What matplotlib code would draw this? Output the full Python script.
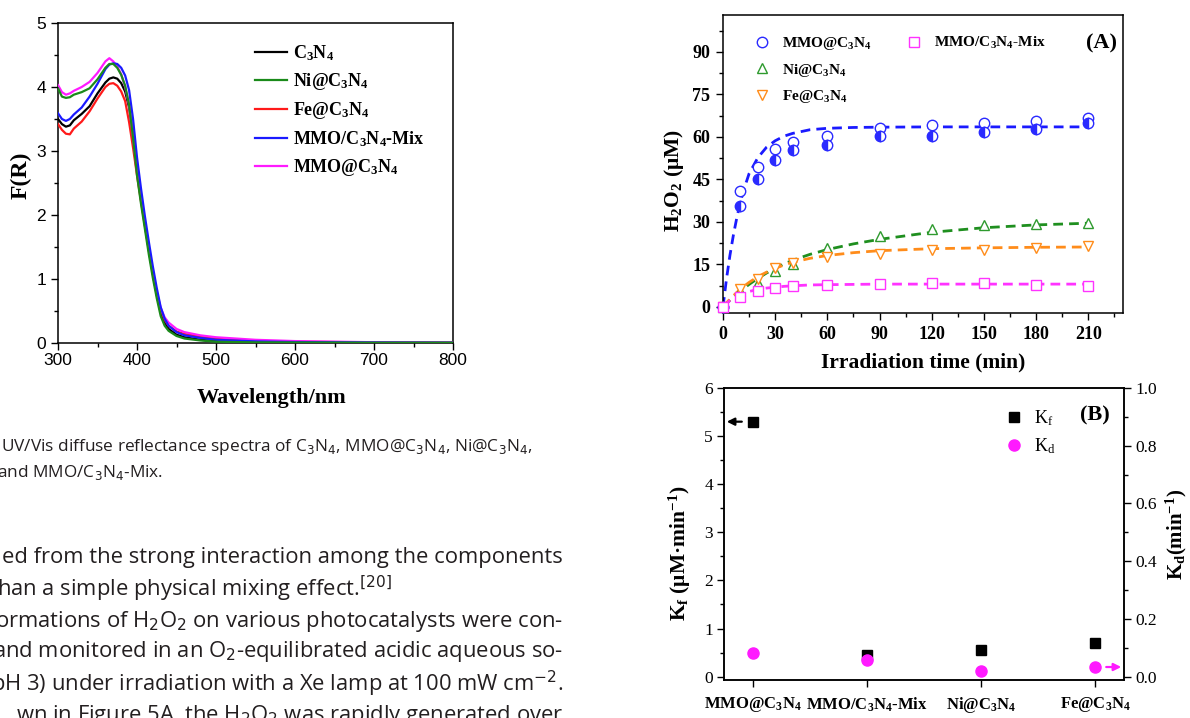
import numpy as np
import matplotlib
matplotlib.use('Agg')
import matplotlib.pyplot as plt
from matplotlib.lines import Line2D
from matplotlib.ticker import MultipleLocator

plt.rcParams['font.family'] = 'Liberation Serif'
plt.rcParams['mathtext.fontset'] = 'custom'
plt.rcParams['mathtext.rm'] = 'Liberation Serif:bold'
plt.rcParams['mathtext.it'] = 'Liberation Serif'
plt.rcParams['mathtext.bf'] = 'Liberation Serif:bold'

W, H = 1190, 718

# ---- UV/Vis DRS data (F(R) vs wavelength)
wl = [300, 305, 310, 315, 320, 330, 340, 350, 360, 365, 370, 375, 380, 385, 390,
      395, 400, 405, 410, 415, 420, 425, 430, 435, 440, 450, 460, 480, 500, 550,
      600, 700, 800]
fr_c3n4 = [3.50, 3.42, 3.38, 3.40, 3.48, 3.58, 3.70, 3.90, 4.07, 4.13, 4.15, 4.13,
           4.06, 3.93, 3.68, 3.25, 2.70, 2.25, 1.85, 1.45, 1.08, 0.75, 0.48, 0.32,
           0.22, 0.13, 0.09, 0.05, 0.03, 0.015, 0.01, 0.005, 0.003]
fr_fe = [3.42, 3.33, 3.27, 3.26, 3.35, 3.46, 3.62, 3.82, 4.00, 4.05, 4.06, 4.02,
         3.93, 3.78, 3.45, 3.05, 2.62, 2.22, 1.83, 1.45, 1.10, 0.78, 0.52, 0.36,
         0.27, 0.18, 0.14, 0.10, 0.07, 0.035, 0.02, 0.01, 0.005]
fr_ni = [3.98, 3.85, 3.83, 3.84, 3.88, 3.92, 3.98, 4.12, 4.30, 4.36, 4.36, 4.30,
         4.19, 4.02, 3.72, 3.20, 2.62, 2.18, 1.78, 1.38, 1.02, 0.70, 0.42, 0.27,
         0.19, 0.11, 0.07, 0.04, 0.02, 0.01, 0.008, 0.005, 0.005]
fr_mix = [3.59, 3.50, 3.47, 3.50, 3.57, 3.68, 3.85, 4.05, 4.28, 4.35, 4.37, 4.36,
          4.30, 4.18, 3.95, 3.50, 2.90, 2.42, 1.98, 1.58, 1.20, 0.86, 0.56, 0.38,
          0.27, 0.17, 0.12, 0.08, 0.05, 0.025, 0.015, 0.008, 0.005]
fr_mmo = [4.03, 3.92, 3.88, 3.90, 3.94, 4.00, 4.08, 4.22, 4.40, 4.45, 4.40, 4.32,
          4.20, 4.00, 3.72, 3.22, 2.68, 2.25, 1.86, 1.48, 1.12, 0.80, 0.55, 0.40,
          0.32, 0.22, 0.17, 0.12, 0.09, 0.05, 0.03, 0.012, 0.006]

# ---- H2O2 production (A)
t_pts = [0, 10, 20, 30, 40, 60, 90, 120, 150, 180, 210]
mmo_run1 = [0, 40.7, 49.2, 55.8, 58.0, 60.4, 63.2, 64.2, 64.9, 65.6, 66.8]
mmo_run2 = [0, 35.4, 45.2, 51.9, 55.2, 57.1, 60.2, 60.2, 61.8, 62.8, 64.9]
ni_pts = [0, 5.7, 8.5, 12.7, 15.0, 20.6, 25.0, 27.4, 28.8, 29.1, 29.5]
fe_pts = [0, 6.1, 9.7, 13.6, 15.3, 17.7, 18.6, 20.1, 20.1, 20.9, 21.6]
mix_pts = [0, 3.3, 5.5, 6.5, 7.3, 7.7, 8.1, 8.3, 8.5, 7.8, 7.4]

t_fit = [0, 2, 4, 6, 8, 10, 12, 15, 20, 25, 30, 35, 40, 50, 60, 75, 90, 120, 150, 180, 210]
mmo_fit = [0, 9.8, 18.2, 25.4, 31.6, 36.9, 41.4, 47.0, 52.6, 56.3, 58.6, 60.2, 61.2,
           62.5, 63.0, 63.3, 63.4, 63.5, 63.5, 63.5, 63.5]
ni_fit = [0, 1.2, 2.3, 3.4, 4.5, 5.5, 6.5, 7.9, 10.0, 11.9, 13.6, 15.1, 16.4, 18.5,
          20.2, 22.2, 23.8, 26.3, 27.9, 28.9, 29.5]
fe_fit = [0, 1.4, 2.7, 3.9, 5.1, 6.2, 7.2, 8.6, 10.6, 12.2, 13.6, 14.7, 15.7, 17.1,
          18.1, 19.1, 19.8, 20.5, 20.8, 21.0, 21.1]
mix_fit = [0, 1.2, 2.2, 3.0, 3.7, 4.3, 4.8, 5.4, 6.1, 6.6, 6.9, 7.2, 7.4, 7.7, 7.8,
           7.9, 8.0, 8.0, 8.0, 8.0, 8.0]

# ---- rate constants (B)
catalysts = ['MMO@C$_3$N$_4$', 'MMO/C$_3$N$_4$-Mix', 'Ni@C$_3$N$_4$', 'Fe@C$_3$N$_4$']
kf = [5.30, 0.46, 0.55, 0.70]
kd = [0.083, 0.056, 0.020, 0.033]

blue = '#2a2aff'
green = '#2e9a2e'
orange = '#ff8c1a'
pink = '#ff33ff'


def rect(x0, y0, x1, y1):
    return [x0 / W, 1 - y1 / H, (x1 - x0) / W, (y1 - y0) / H]


fig = plt.figure(figsize=(W / 100, H / 100), dpi=100)

# ================= left chart =================
ax = fig.add_axes(rect(58, 23, 453, 343))
ax.plot(wl, fr_c3n4, color='black', lw=1.6, label='C$_3$N$_4$', zorder=3)
ax.plot(wl, fr_fe, color='#ff1a1a', lw=1.6, label='Fe@C$_3$N$_4$', zorder=3)
ax.plot(wl, fr_mmo, color='#ff1aff', lw=1.6, label='MMO@C$_3$N$_4$', zorder=4)
ax.plot(wl, fr_mix, color='#1a1aff', lw=1.6, label='MMO/C$_3$N$_4$-Mix', zorder=4)
ax.plot(wl, fr_ni, color='#1a8a1a', lw=1.6, label='Ni@C$_3$N$_4$', zorder=5)
ax.set_xlim(300, 800)
ax.set_ylim(0, 5)
ax.xaxis.set_major_locator(MultipleLocator(100))
ax.xaxis.set_minor_locator(MultipleLocator(50))
ax.yaxis.set_major_locator(MultipleLocator(1))
ax.yaxis.set_minor_locator(MultipleLocator(0.5))
ax.tick_params(which='both', direction='out', width=1)
ax.tick_params(which='major', length=5, labelsize=12.5)
ax.tick_params(axis='x', pad=2)
ax.tick_params(which='minor', length=3)
for lb in ax.get_xticklabels() + ax.get_yticklabels():
    lb.set_family('Liberation Sans')
for s in ax.spines.values():
    s.set_linewidth(1.1)
ax.set_ylabel('F(R)', fontsize=17, fontweight='bold')
ax.yaxis.set_label_coords(-0.066, 0.525)
ax.set_xlabel('Wavelength/nm', fontsize=16, fontweight='bold')
ax.xaxis.set_label_coords(0.54, -0.14)
hs, ls = ax.get_legend_handles_labels()
order = [0, 4, 1, 3, 2]
ax.legend([hs[i] for i in order], [ls[i] for i in order], loc='upper left',
          bbox_to_anchor=(0.475, 0.965), frameon=False, prop={'weight': 'bold', 'size': 13},
          handlelength=1.8, handletextpad=0.3, labelspacing=0.45, borderpad=0)

# ================= panel A =================
axA = fig.add_axes(rect(723, 15, 1123, 313))
dash = (0, (3.5, 2.2))
axA.plot(t_fit, mmo_fit, color='#1a1aff', lw=2, ls=dash)
axA.plot(t_fit, ni_fit, color='#1f8f1f', lw=2, ls=dash)
axA.plot(t_fit, fe_fit, color=orange, lw=2, ls=dash)
axA.plot(t_fit, mix_fit, color=pink, lw=2, ls=dash)
mk = dict(ms=7.5, mew=1, ls='none', clip_on=False, zorder=5)
axA.plot(t_pts, mmo_run1, 'o', mfc='white', mec=blue, **mk)
axA.plot(t_pts, mmo_run2, 'o', fillstyle='left', mfc=blue, markerfacecoloralt='white',
         mec=blue, **mk)
axA.plot(t_pts, ni_pts, '^', mfc='white', mec=green, **mk)
axA.plot(t_pts, fe_pts, 'v', mfc='white', mec=orange, **mk)
axA.plot(t_pts, mix_pts, 's', mfc='white', mec=pink, **mk)
axA.set_xlim(0, 230)
axA.set_ylim(-2.2, 103)
axA.set_xticks([0, 30, 60, 90, 120, 150, 180, 210])
axA.xaxis.set_minor_locator(MultipleLocator(15))
axA.set_yticks([0, 15, 30, 45, 60, 75, 90])
axA.yaxis.set_minor_locator(MultipleLocator(7.5))
axA.tick_params(which='both', direction='out', width=1)
axA.tick_params(which='major', length=5, labelsize=13, pad=4)
axA.tick_params(which='minor', length=3)
for lb in axA.get_xticklabels() + axA.get_yticklabels():
    lb.set_fontweight('bold')
for s in axA.spines.values():
    s.set_linewidth(1.1)
axA.set_ylabel('H$_2$O$_2$ (μM)', fontsize=15.5, fontweight='bold')
axA.yaxis.set_label_coords(-0.0925, 0.446)
axA.set_xlabel('Irradiation time (min)', fontsize=15.5, fontweight='bold')
axA.xaxis.set_label_coords(0.5, -0.134)
lk = dict(ls='none', ms=7.5, mew=1, mfc='white')
leg1 = axA.legend([Line2D([], [], marker='o', mec=blue, **lk),
                   Line2D([], [], marker='^', mec=green, **lk),
                   Line2D([], [], marker='v', mec=orange, **lk)],
                  ['MMO@C$_3$N$_4$', 'Ni@C$_3$N$_4$', 'Fe@C$_3$N$_4$'],
                  loc='upper left', bbox_to_anchor=(0.06, 0.958), frameon=False,
                  prop={'weight': 'bold', 'size': 11}, handlelength=1.0,
                  handletextpad=0.8, labelspacing=0.62, borderpad=0)
axA.add_artist(leg1)
axA.legend([Line2D([], [], marker='s', mec=pink, **lk)], ['MMO/C$_3$N$_4$-Mix'],
           loc='upper left', bbox_to_anchor=(0.44, 0.958), frameon=False,
           prop={'weight': 'bold', 'size': 11}, handlelength=1.0,
           handletextpad=0.8, borderpad=0)
axA.text(0.985, 0.905, '(A)', transform=axA.transAxes, ha='right', va='center',
         fontsize=16, fontweight='bold')

# ================= panel B =================
axB = fig.add_axes(rect(724, 388, 1124, 680))
xc = np.arange(len(catalysts))
axB.plot(xc, kf, 's', color='black', ms=7.5, ls='none', label='K$_f$')
axB.set_xlim(-0.25, 3.25)
axB.set_ylim(-0.07, 6)
axB.set_xticks(xc)
axB.set_xticklabels(catalysts, fontweight='bold')
axB.yaxis.set_major_locator(MultipleLocator(1))
axB.yaxis.set_minor_locator(MultipleLocator(0.5))
axB.tick_params(which='both', direction='out', width=1)
axB.tick_params(which='major', length=5)
axB.tick_params(axis='y', labelsize=12.5, pad=3)
axB.tick_params(axis='x', labelsize=12, pad=6)
axB.tick_params(which='minor', length=3)
axB.set_ylabel('K$_\\mathbf{f}$ (μM·min$^{-1}$)', fontsize=15.5, fontweight='bold')
axB.yaxis.set_label_coords(-0.0775, 0.435)
axB.annotate('', xy=(-0.25, kf[0]), xytext=(-0.07, kf[0]),
             arrowprops=dict(arrowstyle='-|>', color='black', lw=1.6, mutation_scale=11),
             annotation_clip=False)

ax2 = axB.twinx()
ax2.plot(xc, kd, 'o', color='#ff1aff', ms=8, ls='none', label='K$_d$')
ax2.set_ylim(-0.012, 1.0)
ax2.yaxis.set_major_locator(MultipleLocator(0.2))
ax2.yaxis.set_minor_locator(MultipleLocator(0.1))
ax2.yaxis.set_major_formatter(plt.FormatStrFormatter('%.1f'))
ax2.tick_params(which='both', direction='out', width=1)
ax2.tick_params(which='major', length=5, labelsize=12.5, pad=3)
ax2.tick_params(which='minor', length=3)
ax2.set_ylabel('K$_\\mathbf{d}$(min$^{-1}$)', fontsize=15, fontweight='bold')
ax2.yaxis.set_label_coords(1.1, 0.5)
ax2.annotate('', xy=(3.25, kd[3]), xytext=(3.07, kd[3]),
             arrowprops=dict(arrowstyle='-|>', color='#ff1aff', lw=1.6, mutation_scale=11),
             annotation_clip=False)
for a in (axB, ax2):
    for s in a.spines.values():
        s.set_linewidth(1.1)

h1, l1 = axB.get_legend_handles_labels()
h2, l2 = ax2.get_legend_handles_labels()
ax2.legend(h1 + h2, l1 + l2, loc='upper left', bbox_to_anchor=(0.68, 0.96),
           frameon=False, prop={'size': 13}, handlelength=1.0, handletextpad=0.6,
           labelspacing=0.45, borderpad=0)
ax2.text(0.965, 0.905, '(B)', transform=ax2.transAxes, ha='right', va='center',
         fontsize=16, fontweight='bold')

# ================= page text =================
cap = dict(family='Open Sans', fontsize=12.4, color='#231f20', math_fontfamily='dejavusans',
           va='center')
fig.text(533 / W, 1 - 447 / H,
         'UV/Vis diffuse reflectance spectra of C$_3$N$_4$, MMO@C$_3$N$_4$, Ni@C$_3$N$_4$,',
         ha='right', **cap)
fig.text(-3 / W, 1 - 473 / H, 'and MMO/C$_3$N$_4$-Mix.', ha='left', **cap)

body = dict(family='Open Sans', fontsize=15.8, color='#231f20', math_fontfamily='dejavusans',
            va='center')
fig.text(563 / W, 1 - 557 / H, 'ed from the strong interaction among the components',
         ha='right', **body)
fig.text(-3 / W, 1 - 589 / H, 'han a simple physical mixing effect.$^{[20]}$',
         ha='left', **body)
fig.text(563 / W, 1 - 621 / H,
         'ormations of H$_2$O$_2$ on various photocatalysts were con-', ha='right', **body)
fig.text(563 / W, 1 - 652 / H,
         'and monitored in an O$_2$-equilibrated acidic aqueous so-', ha='right', **body)
fig.text(563 / W, 1 - 684 / H,
         'pH 3) under irradiation with a Xe lamp at 100 mW cm$^{-2}$.', ha='right', **body)
fig.text(563 / W, 1 - 716 / H,
         'wn in Figure 5A, the H$_2$O$_2$ was rapidly generated over', ha='right', **body)

fig.savefig('out.png', dpi=100)
